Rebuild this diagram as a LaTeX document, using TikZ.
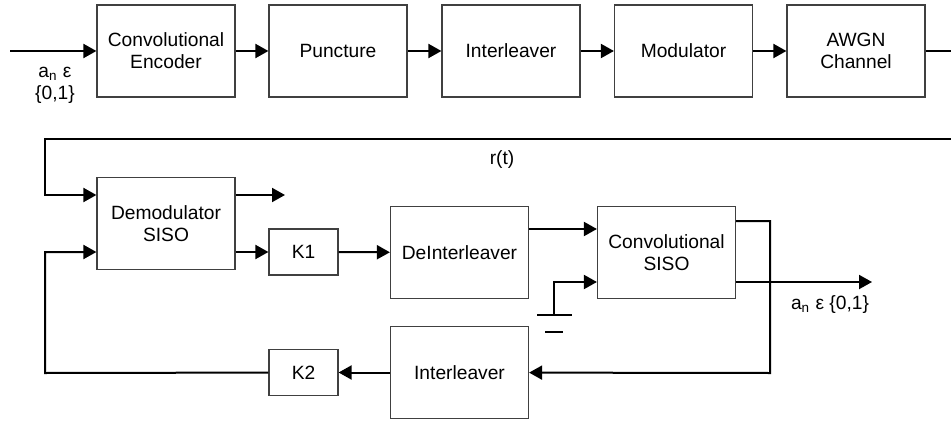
\documentclass[tikz,border=0pt]{standalone}
\usepackage{fontspec}
\setmainfont{Liberation Sans}
\usetikzlibrary{positioning,arrows.meta,calc}

\begin{document}
\begin{tikzpicture}[
  x=0.5pt, y=-0.5pt,
  blk/.style={rectangle, draw=black!75, line width=0.6pt, minimum width=69pt,
              minimum height=46pt, inner sep=1pt, align=center},
  kblk/.style={blk, minimum width=34.5pt, minimum height=23pt},
  wire/.style={line width=1pt},
  >={Triangle[length=6.5pt,width=7pt]},
  font=\fontsize{9.6}{11}\selectfont
]
\useasboundingbox (0,0) rectangle (951,422);

% transmitter chain
\node[blk] (enc)  at (166,51)   {Convolutional\\Encoder};
\node[blk] (punc) at (338,51)   {Puncture};
\node[blk] (intl) at (511,51)   {Interleaver};
\node[blk] (mod)  at (683.5,51) {Modulator};
\node[blk] (awgn) at (856,51)   {AWGN\\Channel};
\coordinate (src) at (10,51);
\coordinate (chout) at (951,51);
\node[align=center] (srclbl) at (55,85) {a\textsubscript{n} ε\\\{0,1\}};

\draw[wire,->] (src) -- (enc);
\draw[wire,->] (enc) -- (punc);
\draw[wire,->] (punc) -- (intl);
\draw[wire,->] (intl) -- (mod);
\draw[wire,->] (mod) -- (awgn);
\draw[wire] (awgn) -- (chout);

% receiver
\node[blk]  (demod) at (166,223.5)   {Demodulator\\SISO};
\node[kblk] (kone)  at (303.5,252)   {K1};
\node[blk]  (deint) at (459.5,252.5) {DeInterleaver};
\node[blk]  (csiso) at (666.5,252.5) {Convolutional\\SISO};
\node[blk]  (intlb) at (459.5,372.5) {Interleaver};
\node[kblk] (ktwo)  at (303.5,372.5) {K2};

\coordinate (rtr) at (951,139);
\coordinate (rtl) at (45,139);
\coordinate (dout) at (285,195);
\coordinate (cin) at (597,229);
\coordinate (gnd) at (554,315);
\coordinate (cfb) at (736,221);
\coordinate (fbr) at (770,373);
\coordinate (fbl) at (45,373);
\coordinate (dec) at (872,282);
\node (rt) at (502,160) {r(t)};
\node (declbl) at (830,305) {a\textsubscript{n} ε \{0,1\}};

\draw[wire,->] (rtr) -- (rtl) |- (demod.west |- dout);
\draw[wire,->] (demod.east |- dout) -- (dout);
\draw[wire,->] (demod.east |- kone.west) -- (kone.west);
\draw[wire,->] (kone) -- (deint);
\draw[wire,->] (deint.east |- cin) -- (csiso.west |- cin);
\draw[wire,->] (gnd) |- (csiso.west |- dec);
\draw[wire] ([xshift=-8.5pt]gnd) -- ([xshift=9pt]gnd);
\draw[wire] ([shift={(-4.5pt,-8.5pt)}]gnd) -- ([shift={(4.5pt,-8.5pt)}]gnd);
\draw[wire,->] (csiso.east |- dec) -- (dec);
\draw[wire,->] (csiso.east |- cfb) -| (fbr) -- (intlb);
\draw[wire,->] (intlb) -- (ktwo);
\draw[wire,->] (ktwo) -- (fbl) |- (demod.west |- kone.west);
\end{tikzpicture}
\end{document}
